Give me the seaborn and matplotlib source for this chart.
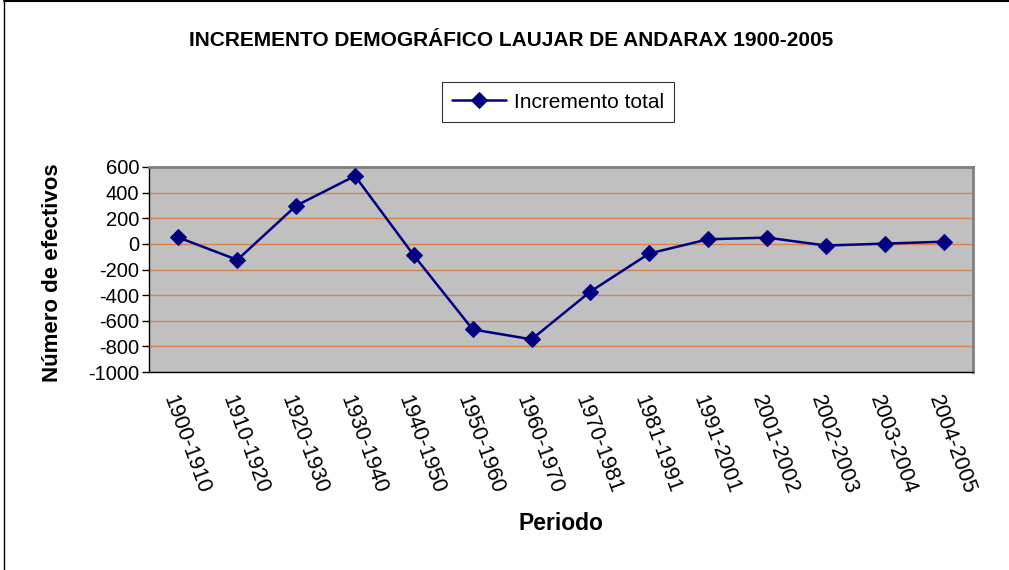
import numpy as np
import pandas as pd
import seaborn as sns
from matplotlib import pyplot as plt
from matplotlib.transforms import ScaledTranslation

periodos = ["1900-1910", "1910-1920", "1920-1930", "1930-1940", "1940-1950",
            "1950-1960", "1960-1970", "1970-1981", "1981-1991", "1991-2001",
            "2001-2002", "2002-2003", "2003-2004", "2004-2005"]
incremento = [50, -125, 298, 530, -90, -668, -745, -372, -75, 36, 49, -13, 2, 17]

df = pd.DataFrame({"periodo": periodos, "incremento": incremento})
df["pos"] = np.arange(len(df))

sns.set_style("white")
plt.rcParams['font.family'] = ['Liberation Sans', 'DejaVu Sans']
plt.rcParams['axes.unicode_minus'] = False
plt.rcParams['text.color'] = 'black'
plt.rcParams['axes.labelcolor'] = 'black'
plt.rcParams['xtick.color'] = 'black'
plt.rcParams['ytick.color'] = 'black'

fig = plt.figure(figsize=(10.09, 5.70), dpi=100)
ax = fig.add_axes([149 / 1009, 1 - 372 / 570, (973 - 149) / 1009, (372 - 167) / 570])
ax.set_facecolor("#c0c0c0")

sns.lineplot(data=df, x="pos", y="incremento", ax=ax, color="#000080",
             marker="D", markersize=8.5, markeredgecolor="#000080",
             linewidth=1.8, label="Incremento total", zorder=3)

ax.set_xlim(-0.5, len(df) - 0.5)
ax.set_ylim(-1000, 600)
ax.set_yticks(range(-1000, 601, 200))
ax.yaxis.grid(True, color="#d9824b", linewidth=1)
ax.xaxis.grid(False)

# ticks between categories like excel
ax.set_xticks(df["pos"])
ax.set_xticklabels(periodos, rotation=-70, ha="left", va="top",
                   rotation_mode="anchor", fontsize=15.5)
shift = ScaledTranslation(6 / 100, 0, fig.dpi_scale_trans)
for lbl in ax.get_xticklabels():
    lbl.set_transform(lbl.get_transform() + shift)
ax.set_xticks(np.arange(-0.5, len(df), 1), minor=True)
ax.tick_params(axis="x", which="major", length=0, pad=15)
ax.tick_params(axis="x", which="minor", length=5, width=1, color="black", direction="out")
ax.tick_params(axis="y", length=5, width=1, color="black", direction="out", labelsize=14.5, pad=2)
ax.tick_params(bottom=True, left=True)

for side in ["top", "right"]:
    ax.spines[side].set_color("#808080")
    ax.spines[side].set_linewidth(2)
for side in ["left", "bottom"]:
    ax.spines[side].set_color("black")
    ax.spines[side].set_linewidth(1)

ax.set_xlabel("Periodo", fontsize=16.5, fontweight="bold")
ax.set_ylabel("Número de efectivos", fontsize=16, fontweight="bold")
ax.xaxis.set_label_coords(0.5, (372 - 523) / 205, transform=ax.transAxes)
ax.yaxis.set_label_coords((53 - 149) / 824, (372 - 273) / 205, transform=ax.transAxes)
ax.xaxis.label.set_va("center")
ax.yaxis.label.set_va("center")

leg = ax.legend(loc="center", bbox_to_anchor=(558 / 1009, 1 - 102 / 570),
                bbox_transform=fig.transFigure, fontsize=15, frameon=True,
                fancybox=False, edgecolor="black", handlelength=2.6,
                handletextpad=0.35, borderpad=0.5, borderaxespad=0)
leg.get_frame().set_linewidth(0.8)

fig.suptitle("INCREMENTO DEMOGRÁFICO LAUJAR DE ANDARAX 1900-2005",
             x=511 / 1009, y=1 - 40 / 570, va="center", fontsize=15, fontweight="bold")

# chart frame edges (top and left visible)
fig.add_artist(plt.Line2D([4 / 1009, 1], [1 - 1 / 570, 1 - 1 / 570], color="black", linewidth=1.5))
fig.add_artist(plt.Line2D([4 / 1009, 4 / 1009], [0, 1], color="black", linewidth=1))

fig.savefig("out.png", dpi=100)
